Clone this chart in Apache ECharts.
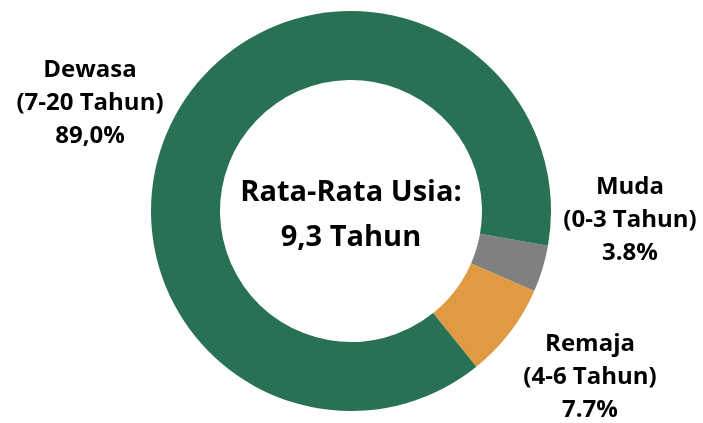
<!DOCTYPE html>
<html>
<head>
<meta charset="utf-8">
<script src="https://cdn.jsdelivr.net/npm/echarts@6/dist/echarts.min.js"></script>
<style>
html,body{margin:0;padding:0;background:#fff;}
#chart{width:703px;height:423px;}
</style>
</head>
<body>
<div id="chart"></div>
<script>
const categories = ['Muda', 'Remaja', 'Dewasa'];
const ranges = ['(0-3 Tahun)', '(4-6 Tahun)', '(7-20 Tahun)'];
const values = [3.8, 7.7, 89.0];
const percentLabels = ['3.8%', '7.7%', '89,0%'];
const centerLines = ['Rata-Rata Usia:', '9,3 Tahun'];

const colors = ['#808080', '#E09A41', '#287154'];
const labelPos = [[630, 220], [590, 377], [90, 103]];
const FONT = '"Open Sans", "Noto Sans", sans-serif';

const chart = echarts.init(document.getElementById('chart'), null, {renderer: 'canvas'});
chart.setOption({
  animation: false,
  backgroundColor: '#ffffff',
  graphic: [{
    type: 'text',
    z: 100,
    x: 351,
    y: 215,
    style: {
      text: centerLines.join('\n'),
      font: 'bold 29px ' + FONT,
      fill: '#000',
      align: 'center',
      verticalAlign: 'middle',
      lineHeight: 45
    }
  }],
  series: [{
    type: 'pie',
    center: [351, 211],
    radius: [131, 200],
    startAngle: -10,
    clockwise: true,
    avoidLabelOverlap: false,
    data: categories.map((c, i) => ({
      name: c,
      value: values[i],
      itemStyle: {color: colors[i]}
    })),
    label: {
      show: true,
      position: 'outside',
      formatter: p => categories[p.dataIndex] + '\n' + ranges[p.dataIndex] + '\n' + percentLabels[p.dataIndex],
      fontFamily: FONT,
      fontWeight: 'bold',
      fontSize: 24,
      lineHeight: 33,
      color: '#000',
      align: 'center',
      verticalAlign: 'middle'
    },
    labelLine: {show: false},
    labelLayout: p => ({
      x: labelPos[p.dataIndex][0],
      y: labelPos[p.dataIndex][1],
      align: 'center',
      verticalAlign: 'middle'
    })
  }]
});
</script>
</body>
</html>
